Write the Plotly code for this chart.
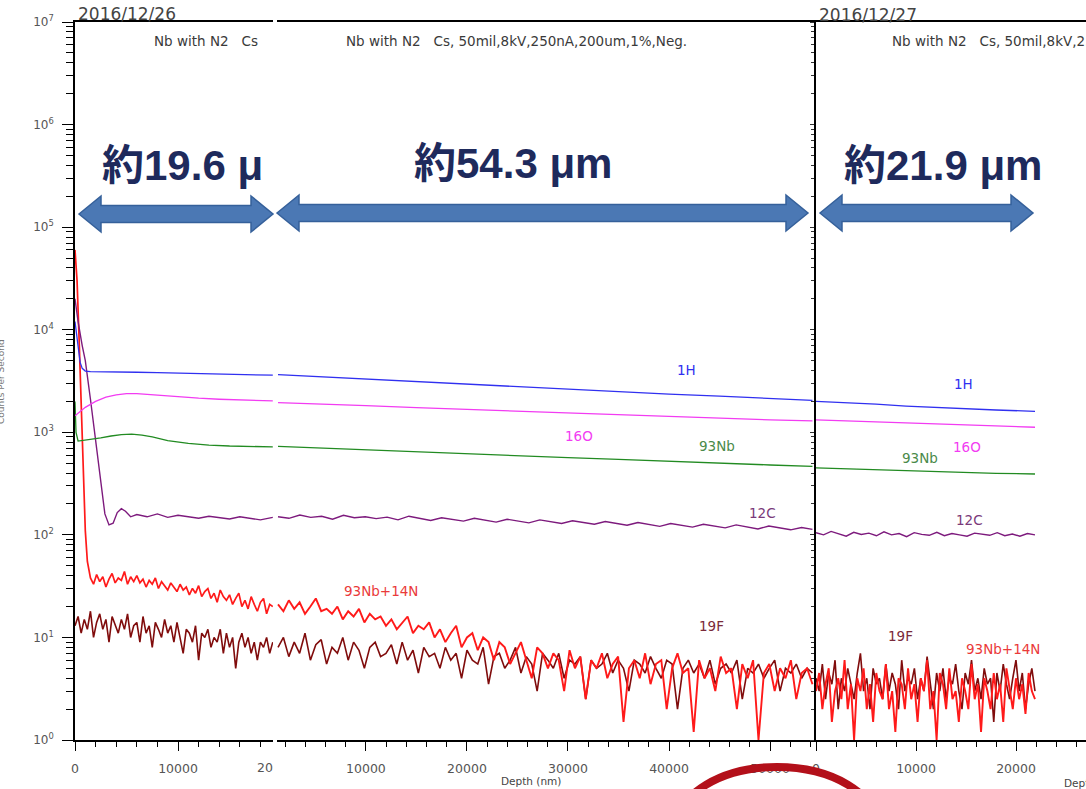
import numpy as np
import plotly.graph_objects as go

# ---------------- data ----------------
# Panel 1 : 2016/12/26 (cropped, 0 .. ~19.2 um)
p1_h_depth = [0, 150, 300, 500, 700, 1000, 1500, 2500, 4000, 6000, 8000, 10000, 12000, 14000, 16000, 18000, 19200]
p1_h = [12000, 9000, 6500, 4800, 4200, 3950, 3900, 3900, 3880, 3850, 3820, 3780, 3740, 3700, 3660, 3620, 3600]

p1_o_depth = [0, 500, 1000, 2000, 3000, 4000, 5000, 6000, 7000, 8000, 10000, 12000, 14000, 16000, 18000, 19200]
p1_o = [1450, 1600, 1750, 2000, 2200, 2320, 2380, 2380, 2340, 2280, 2200, 2150, 2100, 2070, 2040, 2020]

p1_nb_depth = [0, 100, 300, 700, 1500, 2500, 3500, 4500, 5500, 6500, 7500, 9000, 11000, 13000, 15000, 17000, 19200]
p1_nb = [2000, 1000, 820, 830, 850, 880, 920, 950, 960, 940, 900, 830, 780, 750, 735, 725, 720]

p1_c_depth = [0, 300, 700, 1000, 1500, 2000, 2500, 2900, 3300, 3700, 4100, 4500, 4900, 5400, 6000, 7000, 8000,
              9000, 10000, 11000, 12000, 13000, 14000, 15000, 16000, 17000, 18000, 19200]
p1_c = [20000, 12000, 7000, 5000, 2100, 800, 320, 160, 125, 130, 165, 180, 170, 150, 158, 150, 160,
        148, 155, 150, 145, 152, 148, 143, 150, 146, 140, 148]

p1_nbn_head_depth = [0, 200, 400, 600, 800, 1000, 1200, 1400]
p1_nbn_head = [60000, 30000, 8000, 2000, 400, 110, 55, 40]
p1_nbn_tail = [38, 33, 41, 35, 39, 31, 37, 42, 34, 38, 36, 44, 33, 39, 35,
               40, 34, 37, 31, 36, 33, 38, 30, 35, 32, 29, 34, 31, 28, 33,
               29, 31, 26, 30, 27, 32, 25, 28, 30, 24, 27, 22, 29, 25, 23,
               26, 21, 24, 27, 20, 23, 19, 25, 21, 18, 22, 24, 17, 21, 20]

p1_f = [13, 16, 11, 15, 12, 18, 10, 14, 17, 12, 15, 9, 16, 13, 11,
        15, 12, 17, 10, 13, 14, 9, 16, 11, 13, 8, 14, 12, 10, 15,
        11, 13, 9, 14, 10, 7, 12, 11, 9, 13, 6, 11, 10, 12, 8,
        10, 9, 12, 7, 11, 8, 10, 5, 9, 11, 8, 10, 7, 9, 6,
        9, 8, 10, 7, 9]

# Panel 2 : middle profile (~1.3 .. 54.2 um)
p2_depth = [1300, 5000, 10000, 15000, 20000, 25000, 30000, 35000, 40000, 45000, 50000, 54200]
p2_h = [3650, 3500, 3300, 3100, 2950, 2780, 2600, 2480, 2350, 2250, 2130, 2050]
p2_o = [1950, 1900, 1820, 1740, 1670, 1600, 1540, 1480, 1420, 1370, 1320, 1290]
p2_nb = [730, 705, 675, 645, 615, 590, 565, 545, 520, 500, 480, 465]
p2_c = [150, 145, 156, 148, 152, 142, 155, 147, 150, 144,
        149, 140, 152, 145, 138, 147, 142, 136, 145, 139,
        133, 142, 137, 131, 140, 134, 129, 137, 132, 127,
        135, 129, 124, 132, 127, 121, 129, 124, 119, 127,
        122, 117, 125, 119, 114, 122, 116, 112, 118, 113]
p2_nbn = [21, 18, 23, 19, 22, 17, 20, 24, 18, 19,
          17, 20, 15, 18, 16, 19, 14, 17, 15, 16,
          13, 15, 12, 14, 16, 11, 13, 12, 14, 10,
          12, 9, 11, 13, 8, 10, 11, 7.5, 10, 9,
          6, 9, 8, 5.5, 7, 9, 6, 4, 8, 7,
          5, 7, 6, 3, 7.5, 5, 6.5, 2.5, 6, 5,
          7, 4, 5.5, 6.5, 1.5, 5, 6, 4, 7, 3.5,
          5.5, 6, 2, 5, 7, 4.5, 5, 1.2, 6, 4,
          5, 3, 6.5, 4.5, 5, 2, 5.5, 4, 6, 1,
          4.5, 5.5, 3, 5, 4, 6, 2.5, 4.5, 5, 3.5]
p2_f = [8, 10, 6.5, 9, 7, 11, 6, 8.5, 9.5, 5.5,
        8, 7, 10, 6, 9, 7.5, 5, 8, 9, 6.5,
        7, 8.5, 5.5, 9, 6, 7.5, 4.5, 8, 6.5, 7,
        5, 8, 6, 7, 4, 7.5, 6, 5.5, 8, 3.5,
        6.5, 7, 5, 6, 8, 4.5, 6.5, 5.5, 3, 7,
        6, 5, 7, 4, 6, 5.5, 6.5, 2.5, 6, 5,
        5.5, 7, 4.5, 6, 5, 3, 6, 5.5, 4.5, 6.5,
        5, 4, 6, 5.5, 2, 5, 6, 4.5, 5.5, 4,
        6, 3.5, 5, 5.5, 4.5, 6, 2.5, 5, 4.5, 5.5,
        4, 5, 6, 3, 5, 4.5, 5.5, 4, 5, 4.5]

# Panel 3 : 2016/12/27 (0 .. ~21.9 um)
p3_depth = [0, 3000, 6000, 9000, 12000, 15000, 18000, 21900]
p3_h = [2000, 1950, 1880, 1800, 1740, 1700, 1650, 1600]
p3_o = [1320, 1290, 1250, 1220, 1190, 1170, 1140, 1120]
p3_nb = [450, 440, 430, 420, 412, 405, 398, 392]
p3_c = [105, 100, 108, 102, 97, 106, 101, 104, 98, 107, 100, 103, 96, 105, 101,
        99, 106, 98, 103, 100, 97, 104, 101, 99, 105, 98, 102, 97, 103, 100]
p3_nbn = [3, 4.5, 2, 3.5, 5, 1.5, 3, 4, 2.5, 6,
          2, 3.5, 1, 4, 3, 5, 2, 3.5, 1.5, 4.5,
          3, 2.5, 5.5, 2, 3, 1.2, 4, 3.5, 2, 5,
          2.5, 3.5, 1.5, 4, 3, 6, 2, 3, 1, 4.5,
          3.5, 2, 5, 2.5, 3, 1.5, 4, 3, 2, 5.5,
          2.5, 3.5, 1.2, 4, 3, 2, 4.5, 2.5, 3.5, 1.5,
          5, 3, 2, 4, 2.5, 3.5, 1.8, 4.5, 3, 2.5]
p3_f = [4, 3, 5.5, 2.5, 4.5, 3.5, 6, 2, 4, 3,
        5, 3.5, 2.5, 4.5, 7, 3, 4, 2, 5, 3.5,
        4, 2.5, 5.5, 3, 4.5, 3.5, 2, 6, 3, 4,
        3.5, 5, 2.5, 4, 3, 6.5, 3.5, 2, 4.5, 3,
        5, 2.5, 4, 3.5, 5.5, 3, 2, 4.5, 3.5, 6,
        3, 4, 2.5, 5, 3.5, 4, 1.5, 4.5, 3, 5.5,
        3.5, 2.5, 4, 6, 3, 4.5, 2, 3.5, 5, 3]

y_tick_exponents = [0, 1, 2, 3, 4, 5, 6, 7]

# ---------------- styling ----------------
C_H = "#3030f0"
C_O = "#f23cf2"
C_NB = "#228b22"
C_C = "#7d1a7d"
C_NBN = "#ff1a1a"
C_F = "#800c0c"

W, H = 1086, 789
ML, MT, MB = 75, 22, 49
PW, PH = W - ML, H - MT - MB
SANS = "DejaVu Sans, Liberation Sans, sans-serif"


def px(x):
    return (x - ML) / PW


def py(y):
    return (H - MB - y) / PH


fig = go.Figure()


def add(x, y, color, ax, width=1.2):
    fig.add_trace(go.Scatter(x=x, y=y, mode="lines", line=dict(color=color, width=width),
                             xaxis="x" + ("" if ax == 1 else str(ax)),
                             yaxis="y" + ("" if ax == 1 else str(ax)),
                             showlegend=False, hoverinfo="skip"))


# panel 1
add(np.linspace(0, 19200, len(p1_f)), p1_f, C_F, 1, 1.6)
add(list(p1_nbn_head_depth) + list(np.linspace(1500, 19200, len(p1_nbn_tail))),
    p1_nbn_head + p1_nbn_tail, C_NBN, 1, 1.7)
add(p1_c_depth, p1_c, C_C, 1, 1.4)
add(p1_nb_depth, p1_nb, C_NB, 1, 1.3)
add(p1_o_depth, p1_o, C_O, 1, 1.3)
add(p1_h_depth, p1_h, C_H, 1, 1.3)
# panel 2
add(np.linspace(1300, 54200, len(p2_f)), p2_f, C_F, 2, 1.6)
add(np.linspace(1300, 54200, len(p2_nbn)), p2_nbn, C_NBN, 2, 1.9)
add(np.linspace(1300, 54200, len(p2_c)), p2_c, C_C, 2, 1.4)
add(p2_depth, p2_nb, C_NB, 2, 1.3)
add(p2_depth, p2_o, C_O, 2, 1.3)
add(p2_depth, p2_h, C_H, 2, 1.3)
# panel 3
add(np.linspace(0, 21900, len(p3_f)), p3_f, C_F, 3, 1.6)
add(np.linspace(0, 21900, len(p3_nbn)), p3_nbn, C_NBN, 3, 1.9)
add(np.linspace(0, 21900, len(p3_c)), p3_c, C_C, 3, 1.4)
add(p3_depth, p3_nb, C_NB, 3, 1.3)
add(p3_depth, p3_o, C_O, 3, 1.3)
add(p3_depth, p3_h, C_H, 3, 1.3)

xtickfont = dict(family=SANS, size=12.5, color="#555555")
ytickfont = dict(family=SANS, size=12, color="#555555")
ytv = [10 ** k for k in y_tick_exponents]
ytt = ["10<sup>%d</sup>" % k for k in y_tick_exponents]
yminor = [m * 10 ** k for k in y_tick_exponents[:-1] for m in range(2, 10)]


def xaxis_cfg(domain, rng, tv, tt, anchor):
    return dict(domain=domain, range=rng, anchor=anchor, showline=True, mirror=True,
                linecolor="black", linewidth=1.6, ticks="outside", ticklen=9, tickwidth=1.3,
                tickcolor="black", tickvals=tv, ticktext=tt, tickfont=xtickfont,
                ticklabelstandoff=7, showgrid=False, zeroline=False,
                minor=dict(ticks="outside", ticklen=5, tickwidth=1.2, tickcolor="black",
                           dtick=2000, tick0=0, showgrid=False))


def yaxis_cfg(anchor, show):
    d = dict(type="log", range=[0, 7], domain=[0, 1], anchor=anchor, showgrid=False,
             zeroline=False)
    if show == 1:
        d.update(showline=True, linecolor="black", linewidth=1.6, ticks="outside", ticklen=11,
                 tickwidth=1.3, tickcolor="black", tickvals=ytv, ticktext=ytt, tickfont=ytickfont,
                 ticklabelstandoff=6,
                 minor=dict(ticks="outside", ticklen=7, tickwidth=1.1, tickcolor="black",
                            tickvals=yminor, showgrid=False))
    elif show == 3:
        d.update(showline=True, linecolor="black", linewidth=1.6, ticks="outside", ticklen=4,
                 tickwidth=1, tickcolor="#333", tickvals=ytv, showticklabels=False,
                 minor=dict(ticks="outside", ticklen=3, tickwidth=1, tickcolor="#333",
                            tickvals=yminor, showgrid=False))
    else:
        d.update(showline=False, ticks="", showticklabels=False)
    return d


fig.update_layout(
    width=W, height=H, margin=dict(l=ML, r=0, t=MT, b=MB),
    paper_bgcolor="white", plot_bgcolor="white",
    xaxis=xaxis_cfg([0, px(273)], [0, 19220], [0, 10000], ["0", "10000"], "y"),
    xaxis2=xaxis_cfg([px(277), px(815)], [1200, 54450], [10000, 20000, 30000, 40000, 50000],
                     ["10000", "20000", "30000", "40000", "50000"], "y2"),
    xaxis3=xaxis_cfg([px(816), 1], [0, 27000], [0, 10000, 20000], ["0", "10000", "20000"], "y3"),
    yaxis=yaxis_cfg("x", 1),
    yaxis2=yaxis_cfg("x2", 2),
    yaxis3=yaxis_cfg("x3", 3),
)

anns = []


def ann(text, x, y, size, color, xanchor="center", bold=False, family=SANS, angle=0):
    anns.append(dict(text=text, x=px(x), y=py(y), xref="paper", yref="paper", showarrow=False,
                     xanchor=xanchor, yanchor="middle", textangle=angle,
                     font=dict(size=size, color=color, family=family,
                               weight="bold" if bold else "normal")))


# header texts
ann("2016/12/26", 76, 14, 17, "#444444", "left")
ann("2016/12/27", 817, 15, 17, "#444444", "left")
ann("Nb with N2   Cs", 152, 41, 13.5, "#3a3a3a", "left")
ann("Nb with N2   Cs, 50mil,8kV,250nA,200um,1%,Neg.", 344, 41, 13.5, "#3a3a3a", "left")
ann("Nb with N2   Cs, 50mil,8kV,250nA,200um,1%,Neg.", 890, 41, 13.5, "#3a3a3a", "left")

# axis texts
ann("20", 265, 767, 12.5, "#555555")
ann("Depth (nm)", 531, 781, 10.5, "#444444")
ann("Depth (nm)", 1062, 783, 10.5, "#444444", "left")
ann("Counts Per Second", 1, 382, 9, "#777777", angle=-90)

# series labels
LG = "#4a8a4a"
LC = "#7a3a7a"
LR = "#ea3a3a"
LF = "#7a2a3a"
for (t, x, y, c) in [("1H", 686, 370, C_H), ("16O", 579, 436, C_O), ("93Nb", 717, 446, LG),
                     ("12C", 762, 513, LC), ("93Nb+14N", 381, 591, LR),
                     ("19F", 711, 626, LF),
                     ("1H", 963, 384, C_H), ("16O", 967, 447, C_O), ("93Nb", 920, 458, LG),
                     ("12C", 969, 520, LC), ("19F", 900, 636, LF),
                     ("93Nb+14N", 1003, 649, LR)]:
    ann(t, x, y, 13.5, c)

# big Japanese thickness annotations
JP = "Liberation Sans, Arial, Noto Sans CJK JP, sans-serif"
ann("約19.6 μ", 100, 165, 42, "#1e2a5c", "left", bold=True, family=JP)
ann("約54.3 μm", 513, 163, 42, "#1e2a5c", bold=True, family=JP)
ann("約21.9 μm", 943, 165, 42, "#1e2a5c", bold=True, family=JP)

fig.update_layout(annotations=anns)

shapes = []


def arrow(x0, x1, yc, sh=8.5, hh=18, hl=22):
    pts = [(x0, yc), (x0 + hl, yc - hh), (x0 + hl, yc - sh), (x1 - hl, yc - sh), (x1 - hl, yc - hh),
           (x1, yc), (x1 - hl, yc + hh), (x1 - hl, yc + sh), (x0 + hl, yc + sh), (x0 + hl, yc + hh)]
    path = "M " + " L ".join("%.5f,%.5f" % (px(a), py(b)) for a, b in pts) + " Z"
    shapes.append(dict(type="path", path=path, xref="paper", yref="paper",
                       fillcolor="#4b78b4", line=dict(color="#35609a", width=1.5)))


arrow(79, 273, 214)
arrow(277, 808, 213)
arrow(820, 1033, 213)

# red hand-drawn circle at bottom
shapes.append(dict(type="circle", xref="paper", yref="paper", x0=px(677), x1=px(877), y0=py(887),
                   y1=py(767), line=dict(color="#b3101a", width=8)))

fig.update_layout(shapes=shapes)

fig.write_html("out.html")
